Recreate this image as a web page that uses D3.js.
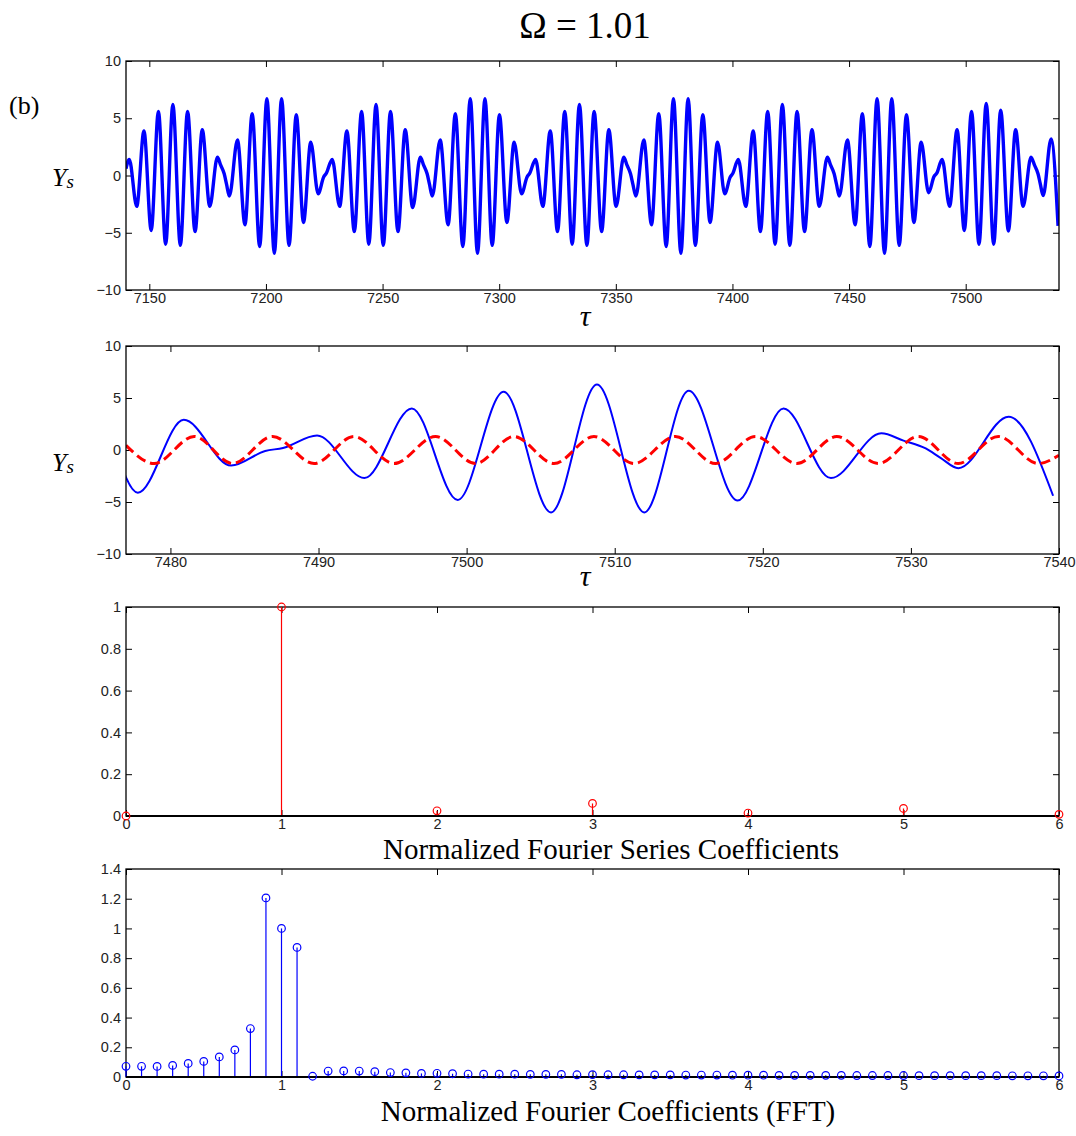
<!DOCTYPE html>
<html>
<head>
<meta charset="utf-8">
<script src="https://cdn.jsdelivr.net/npm/d3@7/dist/d3.min.js"></script>
<style>
  html, body { margin: 0; padding: 0; background: #fff; }
  svg { display: block; }
  .tick text { font-family: "Liberation Sans", Arial, Helvetica, sans-serif; font-size: 14.5px; fill: #222; }
  .tick line { stroke: #000; stroke-width: 1; }
  .serif { font-family: "Liberation Serif", "Times New Roman", Times, serif; fill: #000; }
</style>
</head>
<body>
<svg id="fig" width="1076" height="1136"></svg>
<script>
// Steady-state response Ys(tau): extrema and a few shoulder points of the trace
const tau = [
  7140.0, 7141.4, 7144.6, 7147.7, 7150.8, 7153.9, 7157.0, 7160.1, 7163.3, 7166.4,
  7169.6, 7172.7, 7175.9, 7179.2, 7180.6, 7182.1, 7183.1, 7184.3, 7187.8, 7191.0,
  7194.1, 7197.3, 7200.4, 7203.6, 7206.7, 7209.9, 7213.0, 7216.1, 7219.2, 7222.4,
  7224.7, 7225.9, 7228.4, 7231.6, 7234.7, 7237.9, 7241.0, 7244.1, 7247.2, 7250.3,
  7253.4, 7256.6, 7259.7, 7262.9, 7266.2, 7267.6, 7269.1, 7270.1, 7271.3, 7274.7,
  7278.1, 7281.2, 7284.4, 7287.6, 7290.7, 7293.9, 7297.0, 7300.1, 7303.3, 7306.4,
  7309.6, 7311.9, 7313.1, 7315.6, 7318.7, 7321.9, 7325.0, 7328.1, 7331.3, 7334.4,
  7337.6, 7340.7, 7343.9, 7347.0, 7350.1, 7353.4, 7354.8, 7356.3, 7357.3, 7358.6,
  7362.0, 7365.3, 7368.4, 7371.6, 7374.7, 7377.9, 7381.0, 7384.1, 7387.3, 7390.4,
  7393.6, 7396.7, 7399.0, 7400.2, 7402.5, 7405.7, 7408.9, 7412.0, 7415.1, 7418.3,
  7421.4, 7424.6, 7427.7, 7430.9, 7434.1, 7437.2, 7440.7, 7442.1, 7443.6, 7444.6,
  7445.8, 7449.3, 7452.6, 7455.7, 7458.9, 7462.0, 7465.2, 7468.3, 7471.5, 7474.6,
  7477.8, 7480.9, 7484.1, 7486.4, 7487.6, 7489.9, 7493.1, 7496.3, 7499.4, 7502.5,
  7505.7, 7508.8, 7512.0, 7515.0, 7518.3, 7521.4, 7524.6, 7528.0, 7529.5, 7531.0,
  7532.0, 7533.2, 7536.6, 7539.6
];
const ys = [
   0.6,  1.4, -2.7,  3.9, -4.8,  5.6, -6.0,  6.2, -6.1,  5.6,
  -4.9,  4.0, -2.7,  1.6,  0.9,  0.15, -0.75, -1.8,  3.1, -4.3,
   5.4, -6.2,  6.7, -6.8,  6.7, -6.1,  5.3, -4.1,  2.9, -1.6,
  -0.15, 0.2,  1.4, -2.7,  3.9, -4.9,  5.6, -6.0,  6.2, -6.1,
   5.6, -4.9,  4.0, -2.8,  1.6,  0.9,  0.15, -0.75, -1.8,  3.1,
  -4.3,  5.4, -6.2,  6.7, -6.8,  6.7, -6.1,  5.3, -4.1,  2.9,
  -1.6, -0.15, 0.2,  1.4, -2.7,  3.9, -4.9,  5.6, -6.0,  6.2,
  -6.1,  5.6, -4.9,  4.0, -2.7,  1.6,  0.9,  0.15, -0.75, -1.8,
   3.1, -4.3,  5.4, -6.2,  6.7, -6.8,  6.7, -6.1,  5.3, -4.1,
   2.9, -1.6, -0.15, 0.2,  1.4, -2.7,  3.9, -4.9,  5.6, -6.0,
   6.2, -6.1,  5.6, -4.9,  4.0, -2.7,  1.6,  0.9,  0.15, -0.75,
  -1.8,  3.1, -4.3,  5.4, -6.2,  6.7, -6.8,  6.7, -6.1,  5.3,
  -4.1,  2.9, -1.5, -0.1,  0.2,  1.4, -2.7,  4.0, -4.8,  5.6,
  -6.0,  6.3, -6.0,  5.7, -4.85, 4.0, -2.7,  1.6,  0.9,  0.15,
  -0.75, -1.75, 3.2, -4.4
];

// Dominant harmonic (dashed) over the zoomed window
const tauH = [
  7477.0, 7478.9, 7481.6, 7484.2, 7486.9, 7489.7, 7492.4, 7495.1, 7497.9, 7500.6,
  7503.2, 7505.9, 7508.6, 7511.3, 7514.1, 7516.8, 7519.5, 7522.3, 7525.0, 7527.8,
  7530.5, 7533.2, 7535.9, 7538.6, 7540.0
];
const ysH = [
   0.45, -1.3,  1.3, -1.3,  1.3, -1.3,  1.3, -1.3,  1.3, -1.3,
   1.3, -1.3,  1.3, -1.3,  1.3, -1.3,  1.3, -1.3,  1.3, -1.3,
   1.3, -1.3,  1.3, -1.3, -0.5
];

// Normalized Fourier series coefficients (harmonic order)
const harmonicOrder = [0, 1, 2, 3, 4, 5, 6];
const seriesCoef = [0, 1.0, 0.025, 0.06, 0.014, 0.036, 0.008];

// Normalized FFT magnitudes, frequency step 0.1
const fftFreq = d3.range(61).map(i => +(i / 10).toFixed(1));
const fftMag = [
  0.072, 0.072, 0.071, 0.078, 0.091, 0.105, 0.135, 0.182, 0.326, 1.205,
  1.000, 0.872, 0.005, 0.040, 0.041, 0.040, 0.036, 0.030, 0.028, 0.024,
  0.025, 0.022, 0.020, 0.019, 0.019, 0.019, 0.018, 0.018, 0.018, 0.015,
  0.016, 0.015, 0.015, 0.014, 0.014, 0.014, 0.013, 0.013, 0.013, 0.012,
  0.012, 0.012, 0.011, 0.011, 0.011, 0.011, 0.011, 0.010, 0.010, 0.010,
  0.010, 0.009, 0.009, 0.009, 0.009, 0.009, 0.009, 0.008, 0.008, 0.008,
  0.007
];

// Tick values
const ticksX1 = [7150, 7200, 7250, 7300, 7350, 7400, 7450, 7500];
const ticksX2 = [7480, 7490, 7500, 7510, 7520, 7530, 7540];
const ticksYs = [-10, -5, 0, 5, 10];
const ticksHarm = [0, 1, 2, 3, 4, 5, 6];
const ticksY3 = [0, 0.2, 0.4, 0.6, 0.8, 1];
const ticksY4 = [0, 0.2, 0.4, 0.6, 0.8, 1, 1.2, 1.4];

const svg = d3.select("#fig");
const L = 126, R = 1059;

function makePanel(id, top, bottom, xDomain, yDomain, xTicks, yTicks) {
  const x = d3.scaleLinear().domain(xDomain).range([L, R]);
  const y = d3.scaleLinear().domain(yDomain).range([bottom, top]);
  const g = svg.append("g").attr("id", id);
  g.append("clipPath").attr("id", id + "-clip")
    .append("rect").attr("x", L).attr("y", top).attr("width", R - L).attr("height", bottom - top);
  const fmt = d3.format("~g");
  g.append("g").attr("transform", `translate(0,${bottom})`)
    .call(d3.axisBottom(x).tickValues(xTicks).tickSize(-6).tickPadding(3).tickFormat(fmt))
    .call(a => a.select(".domain").remove());
  g.append("g").attr("transform", `translate(0,${top})`)
    .call(d3.axisTop(x).tickValues(xTicks).tickSize(-6).tickFormat(""))
    .call(a => a.select(".domain").remove());
  g.append("g").attr("transform", `translate(${L},0)`)
    .call(d3.axisLeft(y).tickValues(yTicks).tickSize(-6).tickPadding(5).tickFormat(fmt))
    .call(a => a.select(".domain").remove());
  g.append("g").attr("transform", `translate(${R},0)`)
    .call(d3.axisRight(y).tickValues(yTicks).tickSize(-6).tickFormat(""))
    .call(a => a.select(".domain").remove());
  const plot = g.append("g").attr("clip-path", `url(#${id}-clip)`);
  const frame = () => g.append("rect")
    .attr("x", L).attr("y", top).attr("width", R - L).attr("height", bottom - top)
    .attr("fill", "none").attr("stroke", "#000").attr("stroke-width", 1.3);
  return { x, y, g, plot, frame };
}

function yLabel(g, xPos, yPos) {
  const t = g.append("text").attr("class", "serif")
    .attr("x", xPos).attr("y", yPos).attr("font-style", "italic");
  t.append("tspan").attr("font-size", 26).text("Y");
  t.append("tspan").attr("font-size", 19).attr("dy", 2).text("s");
}

const pts = tau.map((t, i) => [t, ys[i]]);
const ptsH = tauH.map((t, i) => [t, ysH[i]]);

// Panel 1: long record
const p1 = makePanel("p1", 61, 290, [7140, 7540], [-10, 10], ticksX1, ticksYs);
p1.plot.append("path").datum(pts)
  .attr("fill", "none").attr("stroke", "#0000ff").attr("stroke-width", 3.4)
  .attr("stroke-linejoin", "round")
  .attr("d", d3.line().x(d => p1.x(d[0])).y(d => p1.y(d[1])).curve(d3.curveMonotoneX));
p1.frame();

// Panel 2: zoomed window with harmonic
const p2 = makePanel("p2", 346, 554, [7477, 7540], [-10, 10], ticksX2, ticksYs);
p2.plot.append("path").datum(pts)
  .attr("fill", "none").attr("stroke", "#0000ff").attr("stroke-width", 2)
  .attr("d", d3.line().x(d => p2.x(d[0])).y(d => p2.y(d[1])).curve(d3.curveMonotoneX));
p2.plot.append("path").datum(ptsH)
  .attr("fill", "none").attr("stroke", "#ff0000").attr("stroke-width", 3)
  .attr("stroke-dasharray", "10,5")
  .attr("d", d3.line().x(d => p2.x(d[0])).y(d => p2.y(d[1])).curve(d3.curveMonotoneX));
p2.frame();

// Stem plot helper
function stems(p, xs, vs, color) {
  const layer = p.g.append("g");
  layer.selectAll("line.stem").data(xs).join("line").attr("class", "stem")
    .attr("x1", d => p.x(d)).attr("x2", d => p.x(d))
    .attr("y1", p.y(0)).attr("y2", (d, i) => p.y(vs[i]))
    .attr("stroke", color).attr("stroke-width", 1.2);
  layer.append("line")
    .attr("x1", L).attr("x2", R).attr("y1", p.y(0)).attr("y2", p.y(0))
    .attr("stroke", "#000").attr("stroke-width", 2.2);
  layer.selectAll("circle").data(xs).join("circle")
    .attr("cx", d => p.x(d)).attr("cy", (d, i) => p.y(vs[i])).attr("r", 3.8)
    .attr("fill", "none").attr("stroke", color).attr("stroke-width", 1.2);
}

// Panel 3: Fourier series coefficients
const p3 = makePanel("p3", 607, 816, [0, 6], [0, 1], ticksHarm, ticksY3);
p3.frame();
stems(p3, harmonicOrder, seriesCoef, "#ff0000");

// Panel 4: FFT
const p4 = makePanel("p4", 869, 1077, [0, 6], [0, 1.4], ticksHarm, ticksY4);
p4.frame();
stems(p4, fftFreq, fftMag, "#0000ff");

// Titles and labels
svg.append("text").attr("class", "serif").attr("x", 585).attr("y", 38)
  .attr("text-anchor", "middle").attr("font-size", 37).text("Ω = 1.01");
svg.append("text").attr("class", "serif").attr("x", 9).attr("y", 114)
  .attr("font-size", 26).text("(b)");
yLabel(svg, 52, 186);
yLabel(svg, 52, 471);
svg.append("text").attr("class", "serif").attr("x", 585).attr("y", 326)
  .attr("text-anchor", "middle").attr("font-style", "italic").attr("font-size", 30).text("τ");
svg.append("text").attr("class", "serif").attr("x", 585).attr("y", 586)
  .attr("text-anchor", "middle").attr("font-style", "italic").attr("font-size", 30).text("τ");
svg.append("text").attr("class", "serif").attr("x", 611).attr("y", 859)
  .attr("text-anchor", "middle").attr("font-size", 29).text("Normalized Fourier Series Coefficients");
svg.append("text").attr("class", "serif").attr("x", 608).attr("y", 1121)
  .attr("text-anchor", "middle").attr("font-size", 29).text("Normalized Fourier Coefficients (FFT)");
</script>
</body>
</html>
